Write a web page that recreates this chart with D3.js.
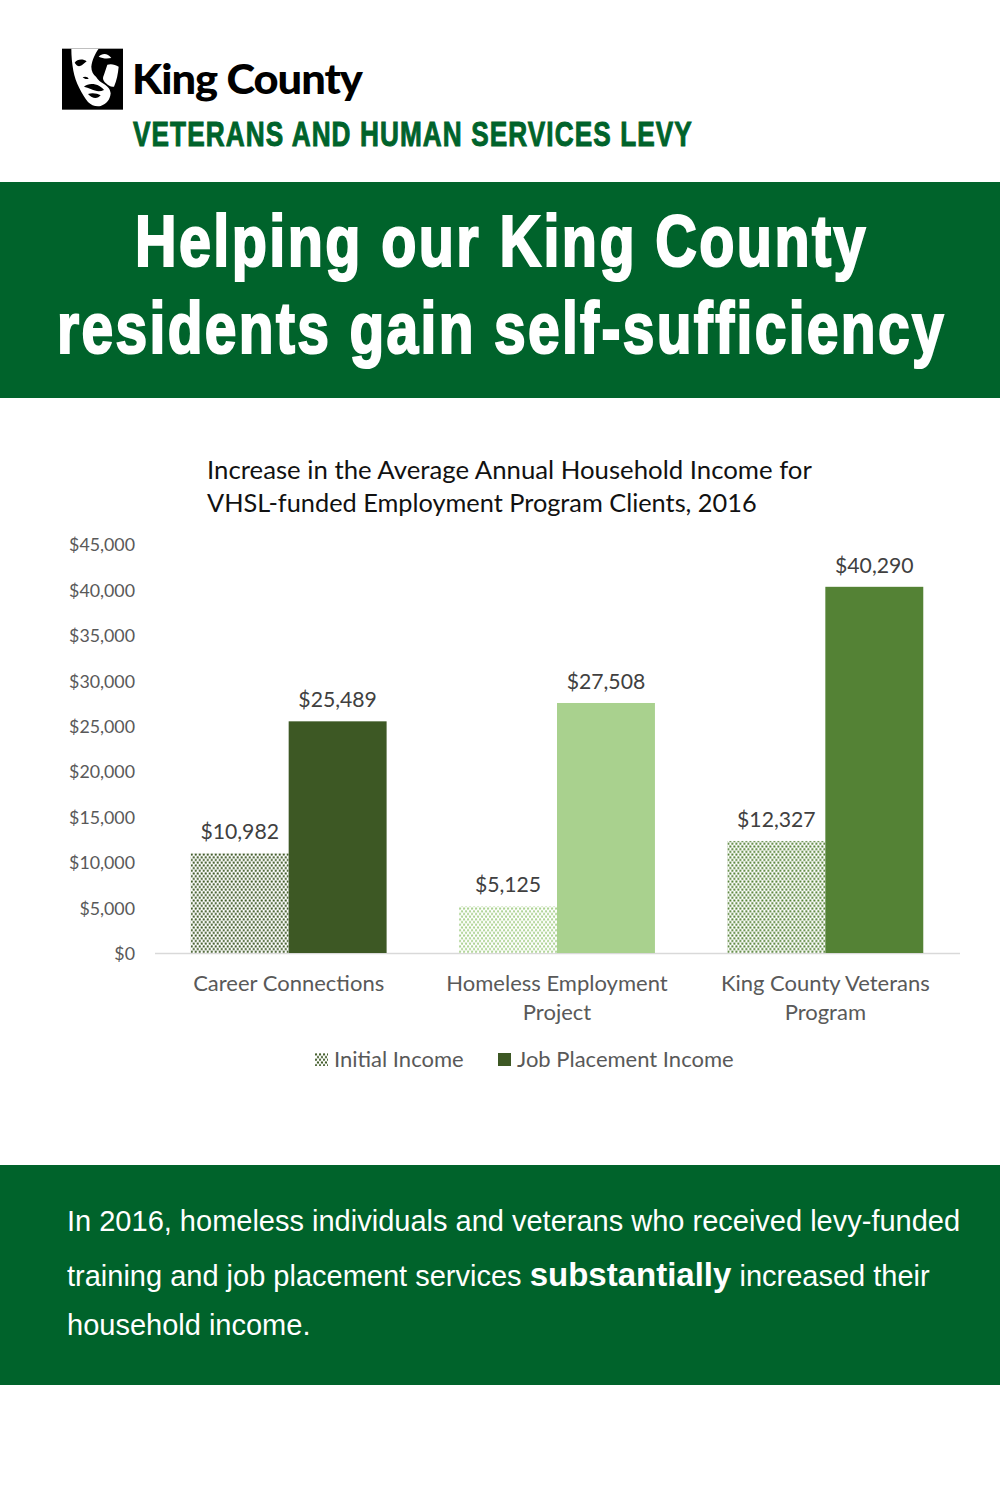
<!DOCTYPE html>
<html>
<head>
<meta charset="utf-8">
<script src="https://cdn.jsdelivr.net/npm/d3@7"></script>
<style>
  html, body { margin: 0; padding: 0; background: #fff; }
  svg { display: block; }
</style>
</head>
<body>
<div class="canvas"></div>
<script>
// chart values
const programs = [["Career Connections"], ["Homeless Employment", "Project"], ["King County Veterans", "Program"]];
const initialIncome = [10982, 5125, 12327];
const jobIncome = [25489, 27508, 40290];
const seriesNames = ["Initial Income", "Job Placement Income"];
const yTicks = [0, 5000, 10000, 15000, 20000, 25000, 30000, 35000, 40000, 45000];
const barColors = ["#3d5824", "#a9d18e", "#548235"];

const green = "#00632b";
const labelFont = "Lato, 'Open Sans', sans-serif";
const headFont = "'Liberation Sans Narrow', 'Liberation Sans', sans-serif";
const bodyFont = "'Liberation Sans', Arial, sans-serif";
const usd = d3.format("$,");

const svg = d3.select(".canvas").append("svg").attr("width", 1000).attr("height", 1500);
const defs = svg.append("defs");

// squeeze or stretch a text so it takes the given width from x
function fit(sel, x, y, w) {
  const natural = sel.node().getComputedTextLength();
  sel.attr("transform", `translate(${x},${y}) scale(${w / natural},1)`);
  return sel;
}

// dotted fill for the initial income bars, one per colour
barColors.forEach((c, i) => {
  const p = defs.append("pattern")
    .attr("id", "dots" + i)
    .attr("patternUnits", "userSpaceOnUse")
    .attr("width", 4)
    .attr("height", 5.4);
  p.append("rect").attr("width", 4).attr("height", 5.4).attr("fill", "#fff");
  p.append("circle").attr("cx", 1).attr("cy", 1.3).attr("r", 1.15).attr("fill", c);
  p.append("circle").attr("cx", 3).attr("cy", 4).attr("r", 1.15).attr("fill", c);
});

// banners
svg.append("rect").attr("x", 0).attr("y", 182).attr("width", 1000).attr("height", 216).attr("fill", green);
svg.append("rect").attr("x", 0).attr("y", 1165).attr("width", 1000).attr("height", 220).attr("fill", green);

// logo, rough trace of the face in zoomed crop coordinates
const logo = svg.append("g").attr("transform", "translate(58,44) scale(0.3333)");
logo.append("rect").attr("x", 12).attr("y", 14).attr("width", 183).attr("height", 183).attr("fill", "#000");
logo.append("path").attr("fill", "#fff")
  .attr("d", "M40,14 L122,14 C112,28 102,48 100,68 C100,82 106,92 114,98 C120,108 128,114 138,120 C150,128 156,134 158,148 C156,168 146,180 128,186 C112,188 100,184 90,174 C72,150 52,115 46,80 C42,58 40,36 40,14 Z");
logo.append("path").attr("fill", "#fff")
  .attr("d", "M122,38 C132,28 148,26 160,42 C148,44 134,44 122,38 Z");
logo.append("path").attr("fill", "#fff")
  .attr("d", "M148,62 C160,58 172,62 182,68 C180,90 176,110 168,128 C160,130 152,126 144,118 C136,110 132,104 138,92 C142,82 144,72 148,62 Z");
logo.append("path").attr("fill", "#000")
  .attr("d", "M50,56 C58,44 76,44 86,52 C78,58 74,64 66,66 C60,68 54,62 50,56 Z M74,100 C80,96 90,98 92,104 C86,106 80,106 74,100 Z M78,128 C90,118 108,118 124,126 C130,130 136,134 138,138 C126,144 112,142 100,136 C92,132 84,130 78,128 Z M90,150 C102,146 118,148 128,154 C120,164 104,166 90,150 Z");

fit(svg.append("text").text("King County")
  .attr("font-family", "Lato, sans-serif").attr("font-weight", 900).attr("font-size", 42)
  .attr("letter-spacing", -1).attr("fill", "#000"), 132, 94, 230);

fit(svg.append("text").text("VETERANS AND HUMAN SERVICES LEVY")
  .attr("font-family", headFont).attr("font-weight", 700).attr("font-size", 36)
  .attr("letter-spacing", 1.5)
  .attr("stroke", green).attr("stroke-width", 1).attr("fill", green), 133, 146, 560);

// headline
const headline = [
  { t: "Helping our King County", x: 135, y: 266, w: 733 },
  { t: "residents gain self-sufficiency", x: 57, y: 353, w: 889 }
];
headline.forEach(d => {
  fit(svg.append("text").text(d.t)
    .attr("class", "headline")
    .attr("font-family", headFont).attr("font-weight", 700).attr("font-size", 72)
    .attr("letter-spacing", 3)
    .attr("stroke", "#fff").attr("stroke-width", 2.2)
    .attr("fill", "#fff"), d.x, d.y, d.w);
});

// chart title
const titleLines = [
  { t: "Increase in the Average Annual Household Income for", y: 479, w: 605 },
  { t: "VHSL-funded Employment Program Clients, 2016", y: 512, w: 550 }
];
titleLines.forEach(d => {
  fit(svg.append("text").text(d.t)
    .attr("class", "chart-title")
    .attr("font-family", labelFont).attr("font-size", 25).attr("fill", "#111"), 207, d.y, d.w);
});

// scales
const x0 = d3.scaleBand().domain(d3.range(programs.length)).range([154.5, 959.5]).paddingInner(0.27).paddingOuter(0.135);
const x1 = d3.scaleBand().domain([0, 1]).range([0, x0.bandwidth()]);
const y = d3.scaleLinear().domain([0, 45000]).range([953, 544]);

// y axis, labels only
const yAxis = d3.axisLeft(y).tickValues(yTicks).tickFormat(usd).tickSize(0).tickPadding(0);
const yG = svg.append("g").attr("transform", "translate(135,1)").call(yAxis);
yG.select(".domain").remove();
yG.selectAll("text").attr("font-family", labelFont).attr("font-size", 17.8).attr("fill", "#595959");

// x axis
const xAxis = d3.axisBottom(x0).tickSize(0).tickFormat("");
const xG = svg.append("g").attr("transform", "translate(0,953)").call(xAxis);
xG.select(".domain").attr("stroke", "#d9d9d9").attr("stroke-width", 1.5);
xG.selectAll(".tick").selectAll("text").data(i => programs[i]).join("text")
  .text(d => d)
  .attr("x", 0).attr("dy", null).attr("y", (d, i) => 38 + i * 29)
  .attr("text-anchor", "middle")
  .attr("font-family", labelFont).attr("font-size", 22).attr("fill", "#595959");

// bars
const groups = svg.selectAll(".group").data(programs).join("g")
  .attr("class", "group")
  .attr("transform", (d, i) => `translate(${x0(i)},0)`);

groups.append("rect")
  .attr("x", x1(0)).attr("width", x1.bandwidth())
  .attr("y", (d, i) => y(initialIncome[i]))
  .attr("height", (d, i) => y(0) - y(initialIncome[i]))
  .attr("fill", (d, i) => `url(#dots${i})`);

groups.append("rect")
  .attr("x", x1(1)).attr("width", x1.bandwidth())
  .attr("y", (d, i) => y(jobIncome[i]))
  .attr("height", (d, i) => y(0) - y(jobIncome[i]))
  .attr("fill", (d, i) => barColors[i]);

// value labels
[initialIncome, jobIncome].forEach((vals, s) => {
  groups.append("text")
    .text((d, i) => usd(vals[i]))
    .attr("x", x1(s) + x1.bandwidth() / 2)
    .attr("y", (d, i) => y(vals[i]) - 14)
    .attr("text-anchor", "middle")
    .attr("font-family", labelFont).attr("font-size", 21.2).attr("fill", "#404040");
});

// legend
const legendX = [315, 498];
const legend = svg.selectAll(".legend").data(seriesNames).join("g")
  .attr("class", "legend")
  .attr("transform", (d, i) => `translate(${legendX[i]},1053)`);
legend.append("rect").attr("width", 13).attr("height", 13)
  .attr("fill", (d, i) => i === 0 ? "url(#dots0)" : barColors[0]);
legend.append("text").text(d => d)
  .attr("x", 19).attr("y", 14)
  .attr("font-family", labelFont).attr("font-size", 22).attr("fill", "#595959");

// footer text
const foot = svg.append("g").attr("font-family", bodyFont).attr("font-size", 29).attr("fill", "#fff");
foot.append("text").text("In 2016, homeless individuals and veterans who received levy-funded").attr("x", 67).attr("y", 1231);
const line2 = foot.append("text").attr("x", 67).attr("y", 1286);
line2.append("tspan").text("training and job placement services ");
line2.append("tspan").text("substantially").attr("font-weight", 700).attr("font-size", 33);
line2.append("tspan").text(" increased their");
foot.append("text").text("household income.").attr("x", 67).attr("y", 1335);
</script>
</body>
</html>
